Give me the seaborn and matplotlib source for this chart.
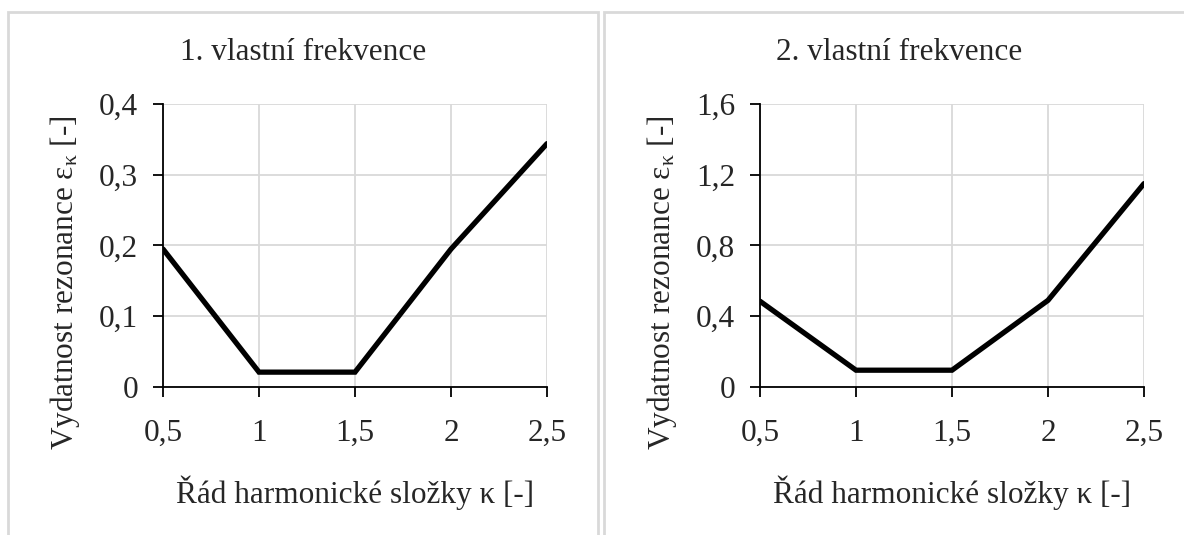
import matplotlib
matplotlib.use("Agg")
import matplotlib.pyplot as plt
import numpy as np
import pandas as pd
import seaborn as sns
from matplotlib.patches import Rectangle
from matplotlib.ticker import FuncFormatter, MultipleLocator

# harmonic order
kappa = [0.5, 1.0, 1.5, 2.0, 2.5]
# resonance strength, 1st and 2nd natural frequency
eps_f1 = [0.195, 0.021, 0.021, 0.195, 0.344]
eps_f2 = [0.485, 0.095, 0.095, 0.49, 1.15]

titles = ["1. vlastní frekvence", "2. vlastní frekvence"]
y_max = [0.4, 1.6]
y_step = [0.1, 0.4]
x_label = "Řád harmonické složky κ [-]"
y_label = "Vydatnost rezonance ε$_{κ}$ [-]"

sns.set_theme(style="white")
plt.rcParams["font.family"] = ["Liberation Serif", "DejaVu Serif"]
plt.rcParams["mathtext.fontset"] = "custom"
plt.rcParams["mathtext.rm"] = "Liberation Serif"
plt.rcParams["mathtext.it"] = "Liberation Serif"

W, H = 1184, 535
FS = 22.5
fig = plt.figure(figsize=(W / 100, H / 100), dpi=100)

comma = FuncFormatter(lambda v, p: ("%g" % round(v, 3)).replace(".", ","))

panels = [
    dict(x0=8, x1=598, ax_left=163, series=eps_f1),
    dict(x0=604, x1=1194, ax_left=760, series=eps_f2),
]

for i, pnl in enumerate(panels):
    # panel frame
    fig.patches.append(Rectangle((pnl["x0"] / W, -0.05), (pnl["x1"] - pnl["x0"]) / W,
                                 1.05 - 12 / H, transform=fig.transFigure,
                                 fill=False, edgecolor="#d9d9d9", linewidth=2))
    ax = fig.add_axes([pnl["ax_left"] / W, 1 - 387 / H, 384 / W, 283 / H])
    df = pd.DataFrame({"k": kappa, "eps": pnl["series"]})
    sns.lineplot(data=df, x="k", y="eps", ax=ax, color="black", linewidth=3.8,
                 solid_joinstyle="miter")
    ax.set_xlim(0.5, 2.5)
    ax.set_ylim(0, y_max[i])
    ax.xaxis.set_major_locator(MultipleLocator(0.5))
    ax.yaxis.set_major_locator(MultipleLocator(y_step[i]))
    ax.xaxis.set_major_formatter(comma)
    ax.yaxis.set_major_formatter(comma)
    ax.grid(True, color="#d9d9d9", linewidth=1.3)
    ax.set_axisbelow(True)
    for s in ["top", "right"]:
        ax.spines[s].set_visible(False)
    for s in ["left", "bottom"]:
        ax.spines[s].set_color("black")
        ax.spines[s].set_linewidth(1.3)
    ax.tick_params(axis="both", direction="out", length=7, width=1.3,
                   color="black", labelsize=FS, left=True, bottom=True)
    ax.tick_params(axis="x", pad=16)
    ax.tick_params(axis="y", pad=11)
    ax.set_xlabel("")
    ax.set_ylabel("")
    fig.text((pnl["x0"] + pnl["x1"]) / 2 / W, 1 - 52 / H, titles[i],
             ha="center", va="center", fontsize=FS)
    fig.text((pnl["ax_left"] + 192) / W, 1 - 493 / H, x_label,
             ha="center", va="center", fontsize=FS)
    fig.text((pnl["ax_left"] - 98) / W, 1 - 283 / H, y_label, rotation=90,
             ha="center", va="center", fontsize=FS)

fig.savefig("out.png", dpi=100)
